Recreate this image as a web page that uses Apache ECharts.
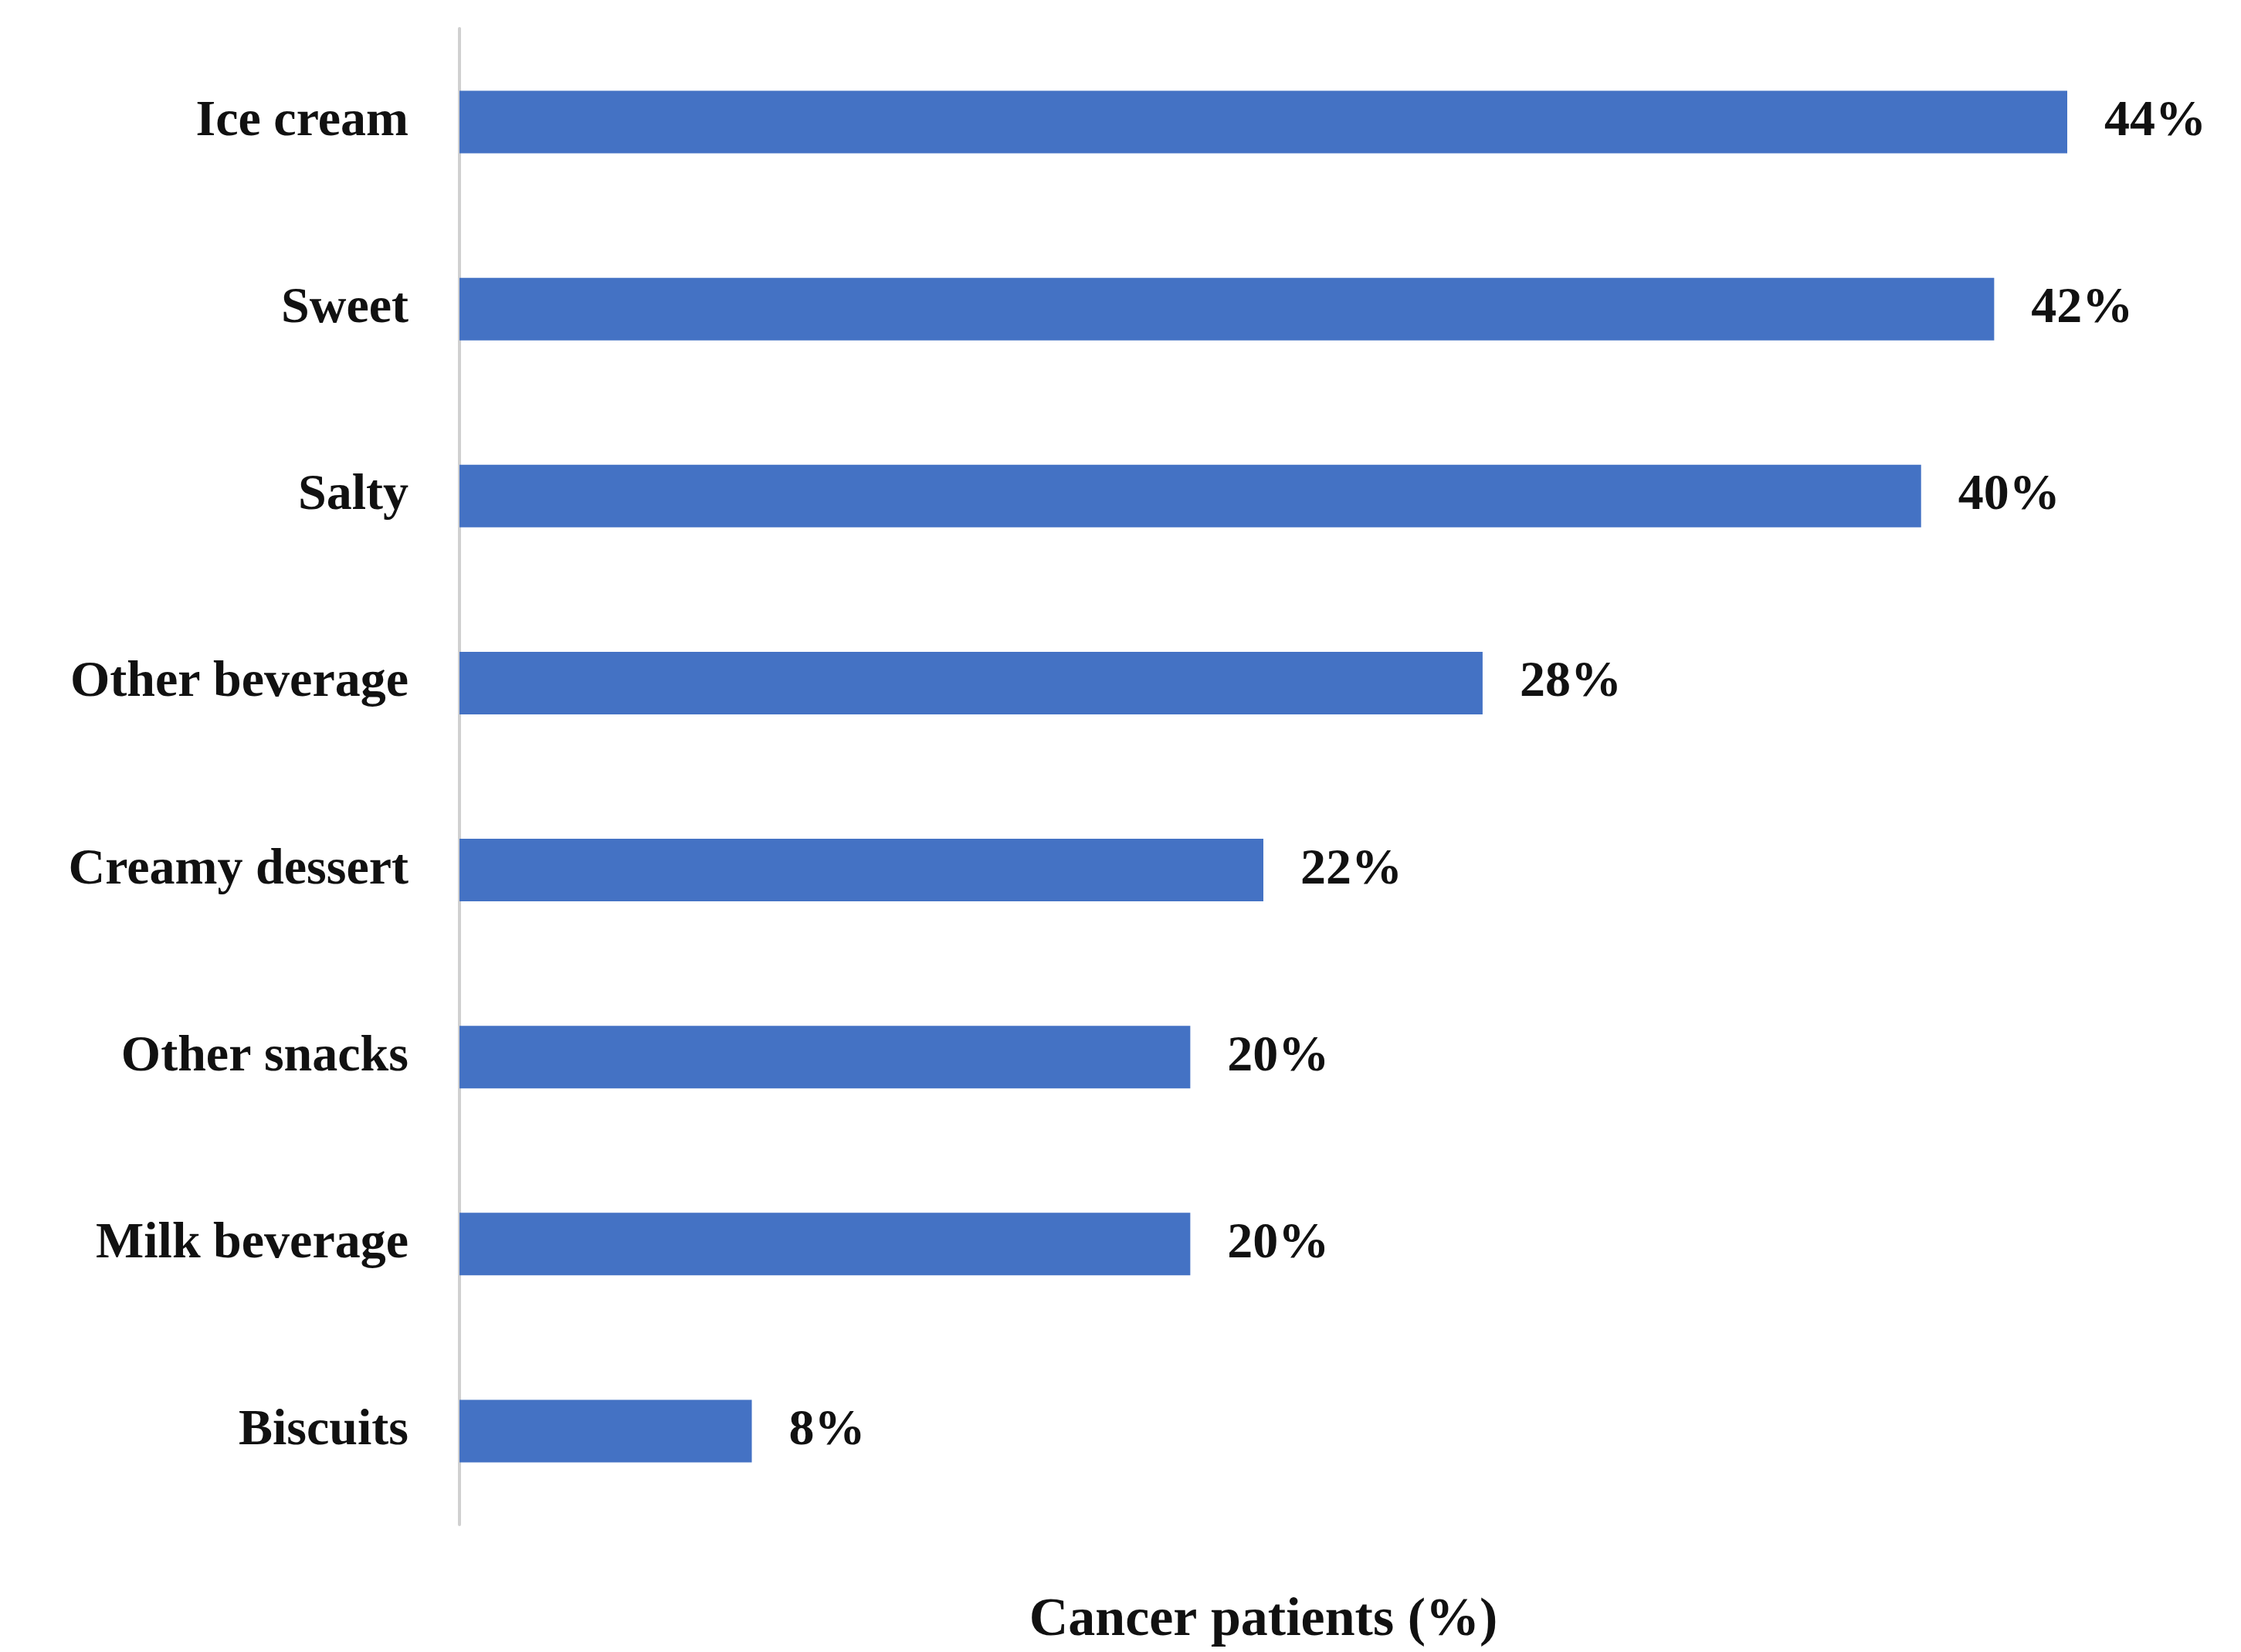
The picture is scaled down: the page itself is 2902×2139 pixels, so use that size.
<!DOCTYPE html>
<html><head><meta charset="utf-8">
<script src="https://cdn.jsdelivr.net/npm/echarts@6/dist/echarts.min.js"></script>
<style>html,body{margin:0;padding:0;background:#fff}#c{width:2902px;height:2139px}</style>
</head><body><div id="c"></div>
<script>
const categories = ["Ice cream","Sweet","Salty","Other beverage","Creamy dessert","Other snacks","Milk beverage","Biscuits"];
const values = [44,42,40,28,22,20,20,8];
const xTitle = "Cancer patients (%)";
const font = "'Liberation Serif','Times New Roman',serif";
const chart = echarts.init(document.getElementById('c'));
chart.setOption({
  backgroundColor:'#fff',
  animation:false,
  grid:{left:595,right:225,top:37,height:1940},
  xAxis:{type:'value',min:0,max:44,show:true,axisLine:{show:false},axisTick:{show:false},
    axisLabel:{show:false},splitLine:{show:false},
    name:xTitle,nameLocation:'middle',nameGap:90,
    nameTextStyle:{fontFamily:font,fontWeight:'bold',fontSize:70,color:'#111'}},
  yAxis:{type:'category',inverse:true,data:categories,
    axisLine:{show:true,lineStyle:{color:'#d0d0d0',width:4}},axisTick:{show:false},
    axisLabel:{fontFamily:font,fontWeight:'bold',fontSize:66,color:'#111',margin:66}},
  series:[{type:'bar',data:values,barWidth:81,itemStyle:{color:'#4472C4'},
    label:{show:true,position:'right',distance:48,formatter:'{c}%',
      fontFamily:font,fontWeight:'bold',fontSize:66,color:'#111'}}]
});
</script></body></html>
